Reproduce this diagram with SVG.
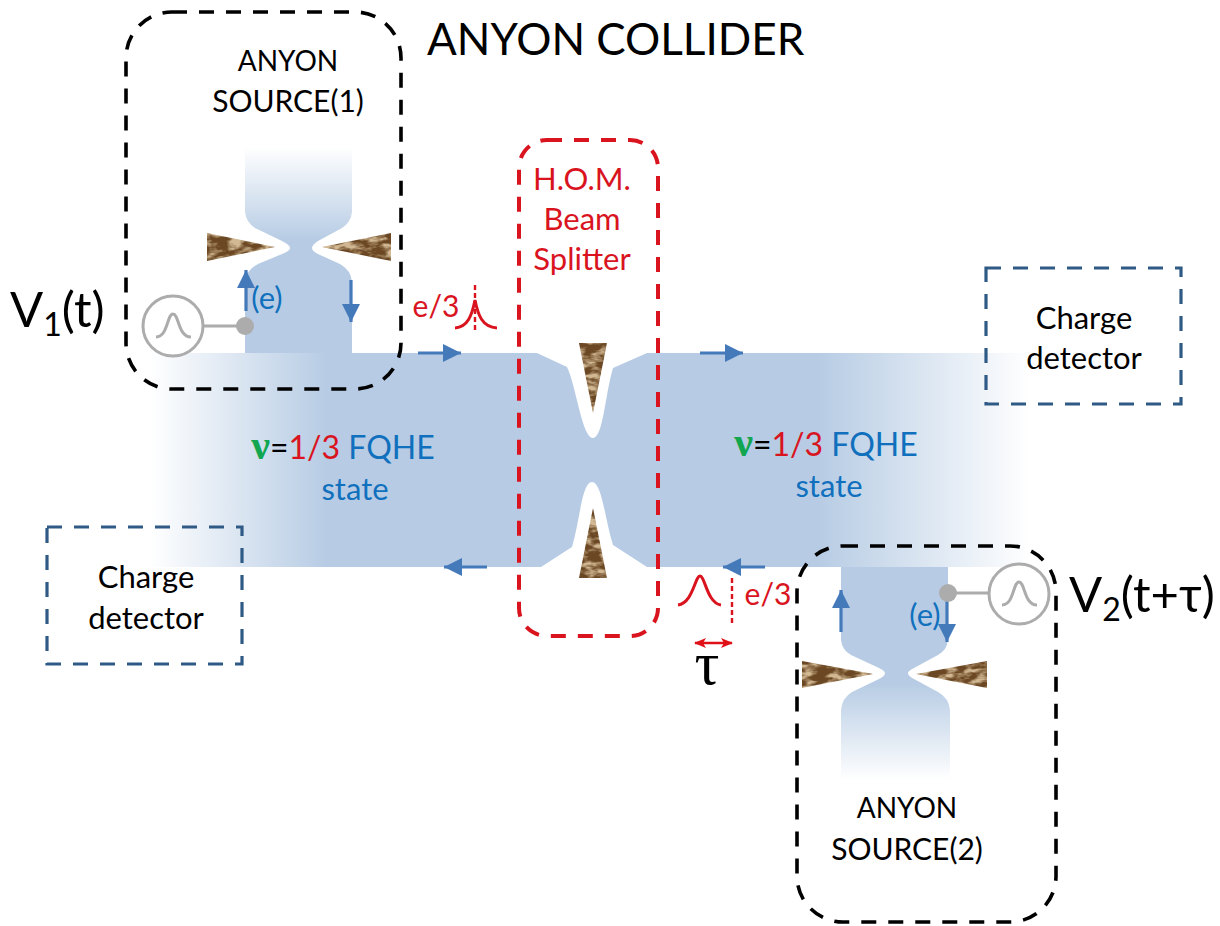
<svg xmlns="http://www.w3.org/2000/svg" width="1220" height="926" viewBox="0 0 1220 926">
<defs>
<style>
text{font-family:Lato,"Open Sans","Liberation Sans",sans-serif}
.blk{fill:#000;font-size:31px;text-anchor:middle}
.any{font-size:28px}
.src{font-size:30px}
.big{fill:#000;font-size:49px}
.red{fill:#d9141e;font-size:31px;text-anchor:middle}
.lbl{fill:#d9141e;font-size:30px;text-anchor:middle}
.blu{fill:#1070bd;font-size:31px;text-anchor:middle}
.fq{font-size:32px}
.box{fill:none;stroke:#000;stroke-width:3.6;stroke-dasharray:15 12}
.det{fill:none;stroke:#2f5a85;stroke-width:3.2;stroke-dasharray:15 12}
.arr{fill:none;stroke:#4479ba;stroke-width:3.2;marker-end:url(#h)}
.pul{fill:none;stroke:#d9141e;stroke-width:3}
.dsh{fill:none;stroke:#d9141e;stroke-width:2.4;stroke-dasharray:5 3}
.gen{fill:#fff;stroke:#acacac;stroke-width:3}
.gp{fill:none;stroke:#acacac;stroke-width:3}
.tip{filter:url(#t)}
.nu{fill:#12a650;font-weight:700;font-size:42px;font-family:"Liberation Serif",serif}
</style>
<marker id="h" markerUnits="userSpaceOnUse" markerWidth="20" markerHeight="20" refX="18" refY="9" orient="auto"><path d="M0 0L18 9L0 18Z" fill="#4479ba"/></marker>
<marker id="r" markerUnits="userSpaceOnUse" markerWidth="14" markerHeight="12" refX="11" refY="6" orient="auto-start-reverse"><path d="M0 1L12 6L0 11L3 6Z" fill="#e01016"/></marker>
<linearGradient id="bandG" gradientUnits="userSpaceOnUse" x1="150" y1="0" x2="1030" y2="0">
<stop offset="0" stop-color="#b7cce4" stop-opacity="0"/><stop offset="0.2" stop-color="#b7cce4"/><stop offset="0.76" stop-color="#b7cce4"/><stop offset="1" stop-color="#b7cce4" stop-opacity="0"/>
</linearGradient>
<linearGradient id="s1G" x1="0" y1="0" x2="0" y2="1">
<stop offset="0" stop-color="#b7cce4" stop-opacity="0"/><stop offset="0.45" stop-color="#b7cce4"/><stop offset="1" stop-color="#b7cce4"/>
</linearGradient>
<linearGradient id="s2G" x1="0" y1="1" x2="0" y2="0">
<stop offset="0" stop-color="#b7cce4" stop-opacity="0"/><stop offset="0.45" stop-color="#b7cce4"/><stop offset="1" stop-color="#b7cce4"/>
</linearGradient>
<filter id="t" x="0" y="0" width="1" height="1" color-interpolation-filters="sRGB">
<feTurbulence type="fractalNoise" baseFrequency="0.07 0.16" numOctaves="3" seed="4"/>
<feColorMatrix values="0 0 0 0 0.42  0 0 0 0 0.28  0 0 0 0 0.14  3.4 0 0 0 -1.0" result="n"/>
<feFlood flood-color="#d2b994" result="f"/>
<feMerge result="m"><feMergeNode in="f"/><feMergeNode in="n"/></feMerge>
<feComposite in="m" in2="SourceAlpha" operator="in"/>
</filter>
</defs>

<g id="fqhe-band">
<path fill="url(#bandG)" d="M150 353H537L567 367C576 385 582 438 593 438C603 438 605 395 613 368L647 353H1030V567H647L613 545C605 520 602 482 592 482C582 482 580 520 572 547L541 567H150Z"/>
</g>
<g id="source-1-channel">
<path fill="url(#s1G)" d="M245 147H352V212Q351 222 342 228L318 241Q312 245 312 248Q312 251 318 254L340 264Q351 270 352 282V353H245V282Q246 270 258 264L282 254Q290 251 290 248Q290 245 282 241L255 228Q246 222 245 212Z"/>
<path class="tip" fill="#000" d="M207 233L275 247L207 261Z"/>
<path class="tip" fill="#000" d="M391 233L322 247L391 261Z"/>
</g>
<g id="source-2-channel">
<path fill="url(#s2G)" d="M841 567H948V640Q947 650 938 655L914 668Q908 671 908 673Q908 676 914 679L938 692Q949 698 950 710V780H841V710Q842 698 852 692L879 679Q885 676 885 673Q885 671 879 668L851 655Q842 650 841 640Z"/>
<path class="tip" fill="#000" d="M802 661L873 674L802 688Z"/>
<path class="tip" fill="#000" d="M987 661L916 674L987 688Z"/>
</g>
<g id="beam-splitter-tips">
<path class="tip" fill="#000" d="M579 343H607L593 413Z"/>
<path class="tip" fill="#000" d="M579 578H607L593 508Z"/>
</g>

<g id="connectors">
<path class="arr" d="M246 311V270"/>
<path class="arr" d="M351 280V322"/>
<path class="arr" d="M418 353H461"/>
<path class="arr" d="M700 353H743"/>
<path class="arr" d="M487 567H444"/>
<path class="arr" d="M765 567H723"/>
<path class="arr" d="M841 632V590"/>
<path class="arr" d="M947 600V642"/>
<path d="M695 643H732" fill="none" stroke="#e01016" stroke-width="2.5" marker-start="url(#r)" marker-end="url(#r)"/>
<path class="gp" d="M203 326H245"/>
<path class="gp" d="M948 593H989"/>
</g>

<g id="anyon-source-1">
<rect class="box" x="126" y="12" width="275" height="377" rx="46"/>
<text class="blk"><tspan class="any" x="288" y="71">ANYON</tspan><tspan class="src" x="288" y="112">SOURCE(1)</tspan></text>
</g>
<g id="anyon-source-2">
<rect class="box" x="797" y="546" width="259" height="376" rx="46"/>
<text class="blk"><tspan class="any" x="907" y="818">ANYON</tspan><tspan class="src" x="907" y="860">SOURCE(2)</tspan></text>
</g>
<g id="hom-beam-splitter">
<rect x="519" y="140" width="139" height="496" rx="28" fill="none" stroke="#d9141e" stroke-width="4" stroke-dasharray="15 12"/>
<text class="red"><tspan x="582" y="190">H.O.M.</tspan><tspan x="582" y="230">Beam</tspan><tspan x="582" y="270">Splitter</tspan></text>
</g>
<g id="detector-right">
<rect class="det" x="986" y="268" width="195" height="136"/>
<text class="blk"><tspan x="1084" y="329">Charge</tspan><tspan x="1084" y="369">detector</tspan></text>
</g>
<g id="detector-left">
<rect class="det" x="47" y="527" width="195" height="137"/>
<text class="blk"><tspan x="146" y="588">Charge</tspan><tspan x="146" y="629">detector</tspan></text>
</g>
<g id="generator-1">
<circle class="gen" cx="173" cy="326" r="30"/>
<path class="gp" d="M156 337C168 337 167 314 173 314C179 314 178 337 191 337"/>
<circle cx="245" cy="326" r="9" fill="#acacac"/>
<text class="blu" x="267" y="309">(e)</text>
</g>
<g id="generator-2">
<circle class="gen" cx="1019" cy="594" r="30"/>
<path class="gp" d="M1002 605C1014 605 1013 582 1019 582C1025 582 1024 605 1037 605"/>
<circle cx="948" cy="593" r="9" fill="#acacac"/>
<text class="blu" x="925" y="626">(e)</text>
</g>
<g id="pulse-1">
<path class="pul" d="M455 328C468 327 472 315 475 300C478 315 482 327 497 328"/>
<path class="dsh" d="M475 285V333"/>
<text class="lbl" x="436" y="317">e/3</text>
</g>
<g id="pulse-2">
<path class="pul" d="M678 605C693 603 695 576 700 576C705 576 707 603 721 605"/>
<path class="dsh" d="M732 578V625"/>
<text class="lbl" x="768" y="605">e/3</text>
<text x="707" y="684" font-size="62" text-anchor="middle" style="font-family:'Liberation Serif',serif">τ</text>
</g>
<g id="state-left">
<text class="blu fq" x="343" y="459"><tspan class="nu">ν</tspan><tspan fill="#000">=</tspan><tspan fill="#d9141e">1/3</tspan> FQHE</text>
<text class="blu" x="355" y="500">state</text>
</g>
<g id="state-right">
<text class="blu fq" x="826" y="456"><tspan class="nu">ν</tspan><tspan fill="#000">=</tspan><tspan fill="#d9141e">1/3</tspan> FQHE</text>
<text class="blu" x="829" y="497">state</text>
</g>
<g id="title-labels">
<text x="427" y="55" font-size="44" fill="#000">ANYON COLLIDER</text>
<text class="big" x="10" y="327">V<tspan font-size="32" dy="9">1</tspan><tspan dy="-9">(t)</tspan></text>
<text class="big" x="1069" y="612">V<tspan font-size="32" dy="9">2</tspan><tspan dy="-9">(t+τ)</tspan></text>
</g>
</svg>
